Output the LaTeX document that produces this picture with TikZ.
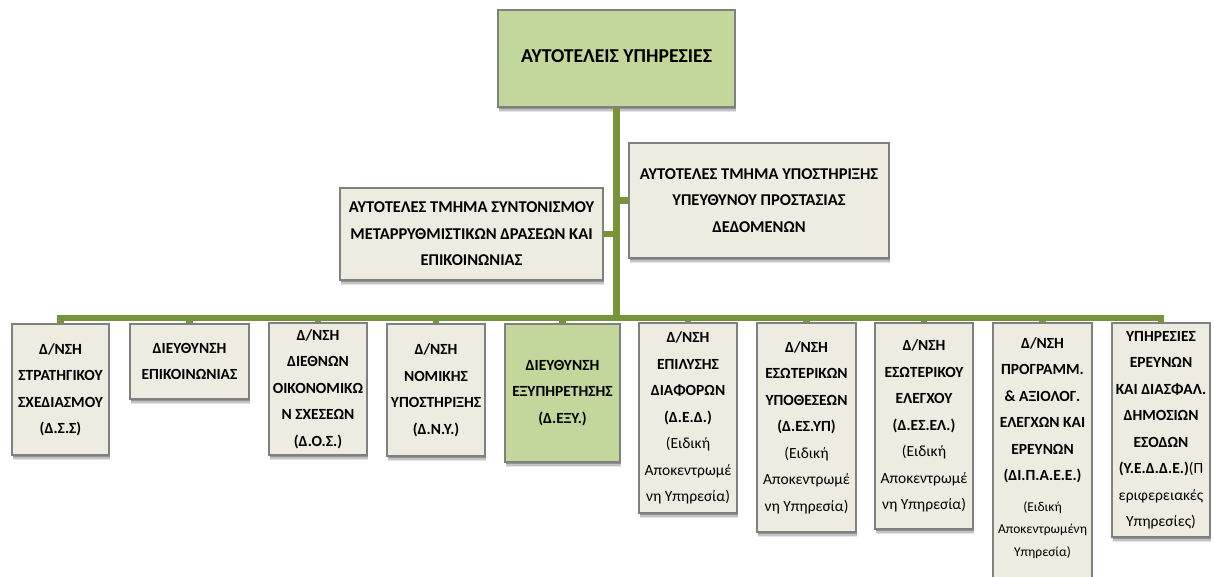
\documentclass[tikz,border=0pt]{standalone}
\usepackage{fontspec}
\setmainfont{Carlito}
\usetikzlibrary{shadows}
\definecolor{lineg}{HTML}{77933C}
\definecolor{boxg}{HTML}{C3D69B}
\definecolor{boxb}{HTML}{EEECE1}
\definecolor{boxedge}{HTML}{808080}
\newcommand\rg[1]{{\mdseries #1}}
\newcommand\sm[1]{{\mdseries\fontsize{13.5}{22.5}\selectfont #1}}
\begin{document}
\begin{tikzpicture}[x=1pt,y=-1pt,
  box/.style={draw=boxedge, line width=1.1pt, fill=boxb, align=center, inner sep=0pt,
    drop shadow={shadow xshift=1.2pt, shadow yshift=-5pt, opacity=0.10, fill=black},
    drop shadow={shadow xshift=1.2pt, shadow yshift=-3.5pt, opacity=0.15, fill=black},
    drop shadow={shadow xshift=1pt, shadow yshift=-2pt, opacity=0.25, fill=black}},
  gbox/.style={box, fill=boxg},
  conn/.style={draw=lineg, line width=6.5pt, line join=miter},
  bt/.style={font=\bfseries\fontsize{15.5}{26.5}\selectfont},
  mt/.style={font=\bfseries\fontsize{16.5}{26.5}\selectfont},
  tt/.style={font=\bfseries\fontsize{19.7}{22}\selectfont},
  plain/.style={align=center, inner sep=0pt},
]
\useasboundingbox (0,0) rectangle (1214,576);
% top
\node[gbox, tt, minimum width=237pt, minimum height=97pt] (top) at (616.5,58.5) {\raisebox{5pt}{ΑΥΤΟΤΕΛΕΙΣ ΥΠΗΡΕΣΙΕΣ}};
% middle
\node[box, mt, minimum width=263pt, minimum height=92pt] (mL) at (471.5,234) {ΑΥΤΟΤΕΛΕΣ ΤΜΗΜΑ ΣΥΝΤΟΝΙΣΜΟΥ\\ΜΕΤΑΡΡΥΘΜΙΣΤΙΚΩΝ ΔΡΑΣΕΩΝ ΚΑΙ\\ΕΠΙΚΟΙΝΩΝΙΑΣ};
\node[box, mt, minimum width=260pt, minimum height=115pt] (mR) at (759,200.5) {ΑΥΤΟΤΕΛΕΣ ΤΜΗΜΑ ΥΠΟΣΤΗΡΙΞΗΣ\\ΥΠΕΥΘΥΝΟΥ ΠΡΟΣΤΑΣΙΑΣ\\ΔΕΔΟΜΕΝΩΝ};
% bottom
\node[box, bt, minimum width=97pt, minimum height=131pt] (b1) at (60.5,389.5) {Δ/ΝΣΗ\\ΣΤΡΑΤΗΓΙΚΟΥ\\ΣΧΕΔΙΑΣΜΟΥ\\(Δ.Σ.Σ)};
\node[box, bt, minimum width=119pt, minimum height=75pt] (b2) at (189.5,361.5) {ΔΙΕΥΘΥΝΣΗ\\ΕΠΙΚΟΙΝΩΝΙΑΣ};
\node[box, bt, minimum width=98pt, minimum height=132pt] (b3) at (318,389) {Δ/ΝΣΗ\\ΔΙΕΘΝΩΝ\\ΟΙΚΟΝΟΜΙΚΩ\\Ν ΣΧΕΣΕΩΝ\\(Δ.Ο.Σ.)};
\node[box, bt, minimum width=98pt, minimum height=132pt] (b4) at (436,390) {Δ/ΝΣΗ\\ΝΟΜΙΚΗΣ\\ΥΠΟΣΤΗΡΙΞΗΣ\\(Δ.Ν.Υ.)};
\node[gbox, bt, minimum width=115pt, minimum height=138pt] (b5) at (562.5,393) {ΔΙΕΥΘΥΝΣΗ\\ΕΞΥΠΗΡΕΤΗΣΗΣ\\(Δ.ΕΞΥ.)};
\node[box, bt, minimum width=98pt, minimum height=190pt] (b6) at (688,418) {Δ/ΝΣΗ\\ΕΠΙΛΥΣΗΣ\\ΔΙΑΦΟΡΩΝ\\(Δ.Ε.Δ.)\\\rg{(Ειδική}\\\rg{Αποκεντρωμέ}\\\rg{νη Υπηρεσία)}};
\node[box, bt, minimum width=99pt, minimum height=209pt] (b7) at (806.5,427.5) {Δ/ΝΣΗ\\ΕΣΩΤΕΡΙΚΩΝ\\ΥΠΟΘΕΣΕΩΝ\\(Δ.ΕΣ.ΥΠ)\\\rg{(Ειδική}\\\rg{Αποκεντρωμέ}\\\rg{νη Υπηρεσία)}};
\node[box, bt, minimum width=98pt, minimum height=206pt] (b8) at (924,426) {Δ/ΝΣΗ\\ΕΣΩΤΕΡΙΚΟΥ\\ΕΛΕΓΧΟΥ\\(Δ.ΕΣ.ΕΛ.)\\\rg{(Ειδική}\\\rg{Αποκεντρωμέ}\\\rg{νη Υπηρεσία)}};
\node[box, minimum width=99pt, minimum height=262pt] (b9) at (1042.5,454) {};
\node[plain, bt] (b9t) at (1042.5,448) {Δ/ΝΣΗ\\ΠΡΟΓΡΑΜΜ.\\\&\ ΑΞΙΟΛΟΓ.\\ΕΛΕΓΧΩΝ ΚΑΙ\\ΕΡΕΥΝΩΝ\\(ΔΙ.Π.Α.Ε.Ε.)\\[4pt]\sm{(Ειδική}\\[-4pt]\sm{Αποκεντρωμένη}\\[-4pt]\sm{Υπηρεσία)}};
\node[box, bt, minimum width=98pt, minimum height=214pt] (b10) at (1161,430) {ΥΠΗΡΕΣΙΕΣ\\ΕΡΕΥΝΩΝ\\ΚΑΙ ΔΙΑΣΦΑΛ.\\ΔΗΜΟΣΙΩΝ\\ΕΣΟΔΩΝ\\(Υ.Ε.Δ.Δ.Ε.)\rg{(Π}\\\rg{εριφερειακές}\\\rg{Υπηρεσίες)}};
% connectors
\coordinate (bus) at (616.5,318);
\draw[conn] (top.south) -- (top.south |- bus);
\draw[conn] (b1.north) -- (b1.north |- bus) -- (b10.north |- bus) -- (b10.north);
\foreach \b in {b2,b3,b4,b5,b6,b7,b8,b9}{
  \draw[conn] (\b.north) -- (\b.north |- bus);
}
\draw[conn] (mL.east) -- (mL.east -| bus);
\draw[conn] (mR.west) -- (mR.west -| bus);
\end{tikzpicture}
\end{document}
